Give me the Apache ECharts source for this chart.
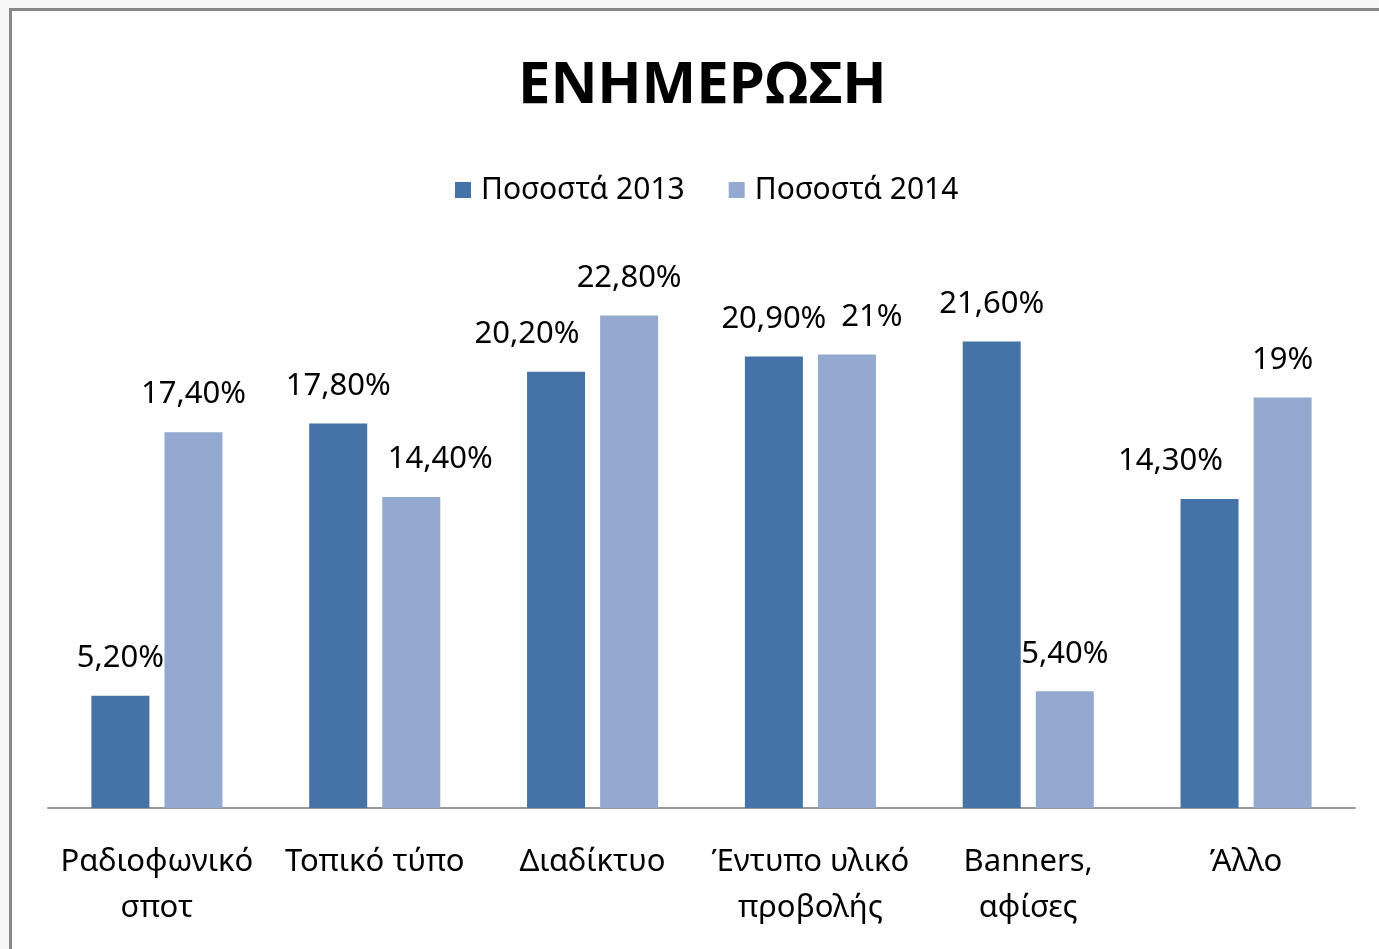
<!DOCTYPE html>
<html>
<head>
<meta charset="UTF-8">
<style>
  html, body { margin: 0; padding: 0; background: #f7f7f7; }
  #frame { position: absolute; left: 9px; top: 8px; right: -10px; bottom: -10px;
           background: #fff; border-left: 3px solid #888; border-top: 3px solid #888; }
  #chart { position: absolute; left: 0; top: 0; width: 1379px; height: 949px; }
</style>
</head>
<body>
<div id="frame"></div>
<div id="chart"></div>
<script src="https://cdn.jsdelivr.net/npm/echarts@6/dist/echarts.min.js"></script>
<script>
var categories = ['Ραδιοφωνικό\nσποτ', 'Τοπικό τύπο', 'Διαδίκτυο', 'Έντυπο υλικό\nπροβολής', 'Banners,\nαφίσες', 'Άλλο'];
var seriesNames = ['Ποσοστά 2013', 'Ποσοστά 2014'];
var values2013 = [5.2, 17.8, 20.2, 20.9, 21.6, 14.3];
var values2014 = [17.4, 14.4, 22.8, 21, 5.4, 19];
var labels2013 = ['5,20%', '17,80%', '20,20%', '20,90%', '21,60%', '14,30%'];
var labels2014 = ['17,40%', '14,40%', '22,80%', '21%', '5,40%', '19%'];

var FONT = '"Noto Sans", "DejaVu Sans", sans-serif';

// Excel nudges a few labels sideways so they do not collide
var shift2013 = [0, 0, -29, 0, 0, -39];
var shift2014 = [0, 29, 0, 25, 0, 0];

function makeData(vals, labels, shifts) {
    return vals.map(function (v, i) {
        return { value: v, label: { formatter: labels[i], offset: [shifts[i], 0] } };
    });
}

var labelStyle = { show: true, position: 'top', distance: 22, fontFamily: FONT, fontSize: 31, color: '#000' };

var myChart = echarts.init(document.getElementById('chart'), null, { renderer: 'canvas' });
var option = {
    animation: false,
    title: {
        text: 'ΕΝΗΜΕΡΩΣΗ',
        left: 513,
        top: 52,
        textStyle: { fontFamily: FONT, fontSize: 58, fontWeight: 'bold', color: '#000' }
    },
    legend: {
        data: seriesNames,
        left: 450,
        top: 170,
        itemWidth: 16,
        itemHeight: 16,
        itemGap: 44,
        icon: 'rect',
        textStyle: { fontFamily: FONT, fontSize: 30, color: '#000', padding: [0, 0, 0, 5] }
    },
    grid: { left: 48, right: 24, top: 268, bottom: 141, containLabel: false },
    xAxis: {
        type: 'category',
        data: categories,
        axisLine: { lineStyle: { color: '#999', width: 2 } },
        axisTick: { show: false },
        axisLabel: {
            interval: 0,
            margin: 31,
            fontFamily: FONT,
            fontSize: 31,
            lineHeight: 46,
            color: '#000'
        }
    },
    yAxis: {
        type: 'value',
        min: 0,
        max: 25,
        show: false,
        splitLine: { show: false }
    },
    series: [
        {
            name: seriesNames[0],
            type: 'bar',
            data: makeData(values2013, labels2013, shift2013),
            barWidth: 58,
            barGap: '26%',
            itemStyle: { color: '#4572A7' },
            label: labelStyle
        },
        {
            name: seriesNames[1],
            type: 'bar',
            data: makeData(values2014, labels2014, shift2014),
            barWidth: 58,
            itemStyle: { color: '#93A9CF' },
            label: labelStyle
        }
    ]
};
myChart.setOption(option);
</script>
</body>
</html>
